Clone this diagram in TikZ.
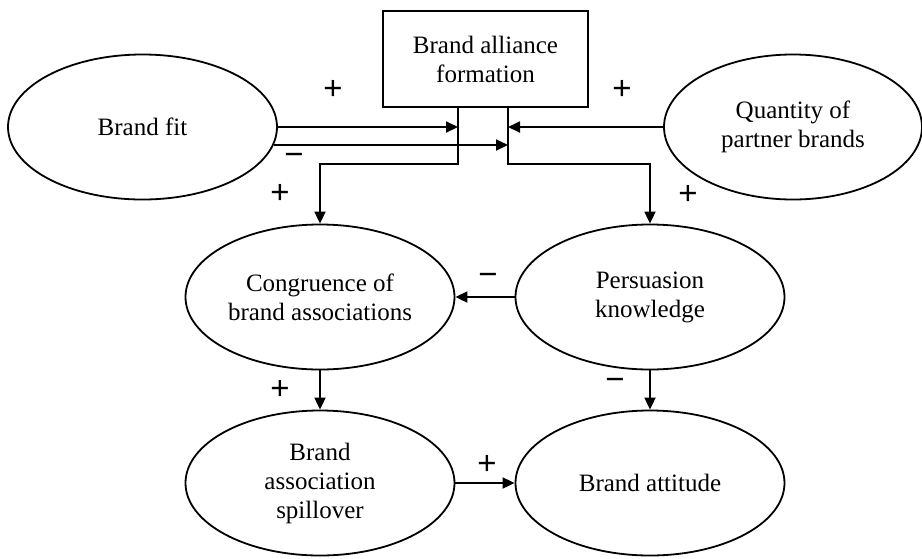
\documentclass[tikz,border=0pt]{standalone}
\usepackage{fontspec}
\setmainfont{Liberation Serif}
\newfontfamily\signfont{Liberation Sans}
\usetikzlibrary{shapes.geometric,arrows.meta}
\begin{document}
\begin{tikzpicture}[x=1pt,y=-1pt,
  every node/.style={font=\fontsize{25}{29}\selectfont, align=center},
  oval/.style={draw, ellipse, line width=1.8pt, minimum width=269pt,
    minimum height=145pt, inner sep=0pt},
  box/.style={draw, rectangle, line width=1.8pt, minimum width=205pt,
    minimum height=96pt, inner sep=0pt},
  link/.style={line width=1.8pt},
  arr/.style={link, -{Triangle[length=12pt,width=11pt]}},
  sign/.style={font=\signfont\fontsize{33}{33}\selectfont, inner sep=0pt}]

% canvas
\fill[white] (0,0) rectangle (922,558);
\useasboundingbox (0,0) rectangle (922,558);

% factors
\node[box]  (alliance) at (485.5,59)  {Brand alliance\\formation};
\node[oval] (fit)      at (142.5,127) {Brand fit};
\node[oval, minimum width=258pt] (qty) at (793,127) {Quantity of\\partner brands};
\node[oval] (cong)     at (320,297)   {Congruence of\\brand associations};
\node[oval] (pers)     at (650,297)   {Persuasion\\knowledge};
\node[oval] (spill)    at (320,483)   {Brand\\association\\spillover};
\node[oval] (att)      at (650,483)   {Brand attitude};

% the two stems leaving the alliance box
\coordinate (lt) at (458,107);
\coordinate (rt) at (508,107);
% level of the second line leaving Brand fit
\path (fit.center) ++(0,18) coordinate (low);

% moderating influences on the stems
\draw[arr] (fit.east) -- (fit.east -| lt);
\draw[arr] (fit.-8 |- low) -- (low -| rt);
\draw[arr] (qty.west) -- (qty.west -| rt);

% stems to the mediators
\draw[arr] (lt) -- (lt |- 0,164) -| (cong.north);
\draw[arr] (rt) -- (rt |- 0,164) -| (pers.north);

% remaining paths
\draw[arr] (pers.west) -- (cong.east);
\draw[arr] (cong.south) -- (spill.north);
\draw[arr] (pers.south) -- (att.north);
\draw[arr] (spill.east) -- (att.west);

% signs
\node[sign] (s1) at (333,90)  {+};
\node[sign] (s2) at (622,90)  {+};
\node[sign] (s3) at (294,159) {−};
\node[sign] (s4) at (280,194) {+};
\node[sign] (s5) at (688,195) {+};
\node[sign] (s6) at (488,279) {−};
\node[sign] (s7) at (280,390) {+};
\node[sign] (s8) at (615,384) {−};
\node[sign] (s9) at (487,465) {+};
\end{tikzpicture}
\end{document}
